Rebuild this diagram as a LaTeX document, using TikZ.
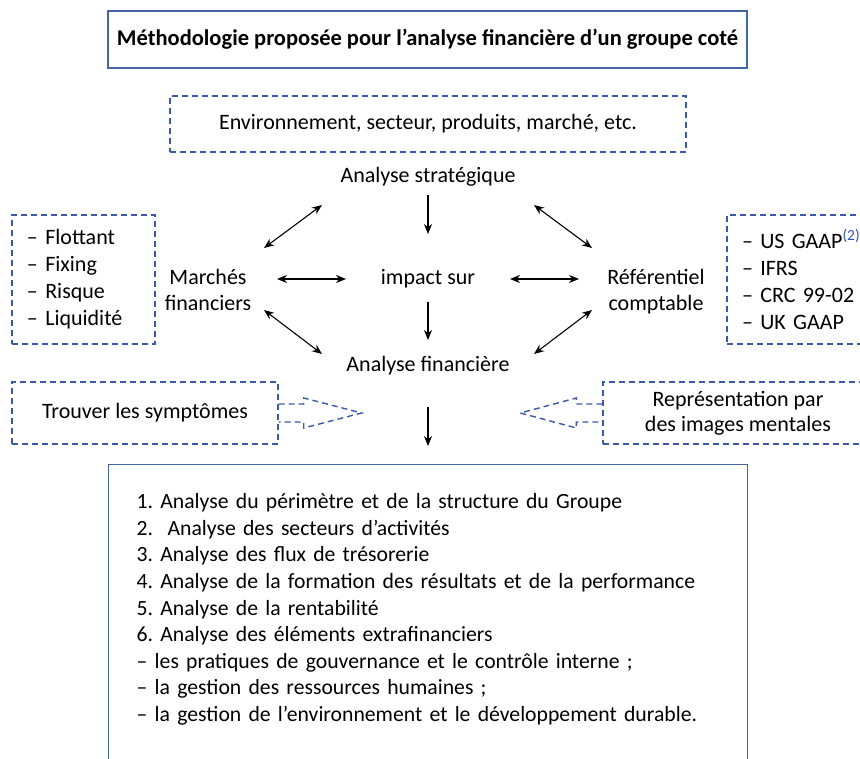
\documentclass[tikz,border=0pt]{standalone}
\usepackage{fontspec}
\setmainfont{Carlito}
\frenchspacing
\usetikzlibrary{arrows.meta}
\definecolor{bordbleu}{RGB}{70,100,170}
\definecolor{tiretbleu}{RGB}{60,88,168}
\definecolor{supbleu}{RGB}{45,80,185}

\begin{document}
\begin{tikzpicture}[
  x=1pt, y=-1pt,
  every node/.style={font=\fontsize{22}{26}\selectfont, inner sep=0pt},
  etiquette/.style={align=center, text height=15pt, text depth=5pt},
  cadre/.style={draw=bordbleu, line width=1.4pt},
  pointille/.style={draw=tiretbleu, line width=1.4pt, dash pattern=on 6pt off 4pt},
  fleche/.style={-{Stealth[length=10pt,width=8pt]}, line width=1.1pt},
  dfleche/.style={{Stealth[length=10pt,width=8pt]}-{Stealth[length=10pt,width=8pt]}, line width=1.1pt}
]
\useasboundingbox (0,0) rectangle (860,759);

\node[cadre, minimum width=639pt, minimum height=57pt,
      font=\fontsize{22.5}{26}\selectfont\bfseries] (titre) at (427.5,39.5)
  {Méthodologie proposée pour l’analyse financière d’un groupe coté};
\node[pointille, minimum width=516pt, minimum height=56pt] (env) at (428,124)
  {Environnement, secteur, produits, marché, etc.};

\node[etiquette] (strat) at (428,178) {Analyse stratégique};
\node[etiquette] (impact) at (428,280) {impact sur};
\node[etiquette] (fin) at (428,367) {Analyse financière};
\node[align=center, text depth=5pt] (marches) at (208,292) {Marchés\\financiers};
\node[align=center, text depth=5pt] (ref) at (656,292) {Référentiel\\comptable};

\node[pointille, text width=113pt, inner xsep=15pt, minimum height=129pt,
      align=left, font=\fontsize{22}{27}\selectfont] (gauche) at (83.5,279.5)
  {– Flottant\\– Fixing\\– Risque\\– Liquidité};
\node[pointille, text width=150pt, inner xsep=15pt, minimum height=129pt,
      align=left, font=\fontsize{22}{27}\selectfont] (droite) at (817,279.5)
  {– US GAAP\textsuperscript{\color{supbleu}(2)}\\– IFRS\\– CRC 99-02\\– UK GAAP};

\node[pointille, minimum width=266pt, minimum height=62pt] (symptomes) at (145,413)
  {Trouver les symptômes};
\node[pointille, minimum width=270pt, minimum height=62pt, align=center,
      font=\fontsize{22}{25}\selectfont] (images) at (738,413)
  {Représentation par\\des images mentales};

\node[cadre, anchor=north west, text width=583pt, inner xsep=28pt, inner ysep=29pt,
      align=left, text depth=320pt, font=\fontsize{21.7}{26.6}\selectfont] (liste) at (108,464)
  {1. Analyse du périmètre et de la structure du Groupe\\
   2.\ \ Analyse des secteurs d’activités\\
   3. Analyse des flux de trésorerie\\
   4. Analyse de la formation des résultats et de la performance\\
   5. Analyse de la rentabilité\\
   6. Analyse des éléments extrafinanciers\\
   – les pratiques de gouvernance et le contrôle interne ;\\
   – la gestion des ressources humaines ;\\
   – la gestion de l’environnement et le développement durable.};

\draw[fleche, shorten <=17pt, shorten >=46pt] (strat.center) -- (impact.center);
\draw[fleche, shorten <=22pt, shorten >=27pt] (impact.center) -- (fin.center);
\draw[fleche, shorten <=40pt, shorten >=18pt] (fin.center) -- (fin.center |- liste.north);

\draw[dfleche] ([shift={(56,-44)}]marches.center) -- ([shift={(-106,27)}]strat.center);
\draw[dfleche] ([shift={(69,-13)}]marches.center) -- ([shift={(-82,-1)}]impact.center);
\draw[dfleche] ([shift={(56,18)}]marches.center) -- ([shift={(-106,-13)}]fin.center);
\draw[dfleche] ([shift={(106,27)}]strat.center) -- ([shift={(-64,-44)}]ref.center);
\draw[dfleche] ([shift={(82,-1)}]impact.center) -- ([shift={(-77,-13)}]ref.center);
\draw[dfleche] ([shift={(106,-13)}]fin.center) -- ([shift={(-64,18)}]ref.center);

\draw[pointille] ([yshift=9pt]symptomes.east) -- ++(25,0) -- ++(0,-6) -- ++(58,15)
  -- ++(-58,15) -- ++(0,-6) -- ++(-25,0);
\draw[pointille] ([yshift=9pt]images.west) -- ++(-26,0) -- ++(0,-6) -- ++(-56,15)
  -- ++(56,15) -- ++(0,-6) -- ++(26,0);
\end{tikzpicture}
\end{document}
